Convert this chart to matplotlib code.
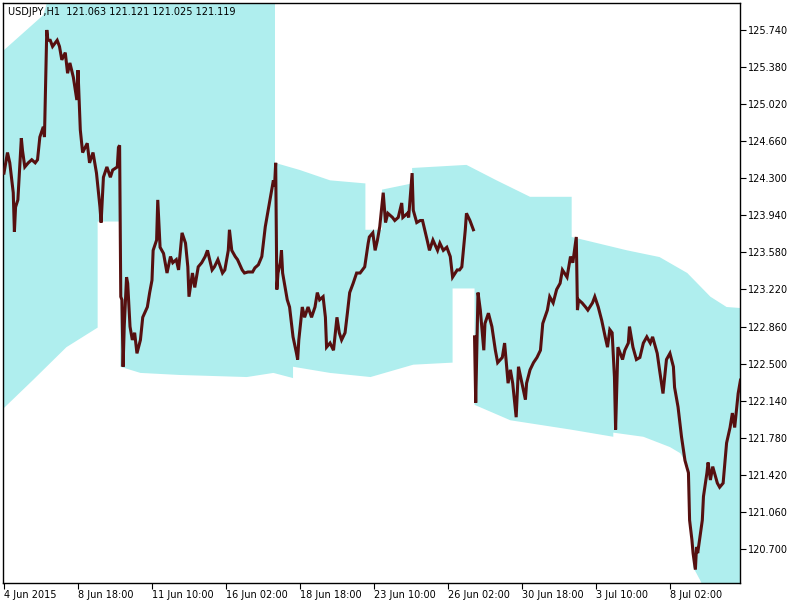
import matplotlib
matplotlib.use("Agg")
import matplotlib.pyplot as plt
import numpy as np

# ---------------- data ----------------
title_text = "USDJPY,H1  121.063 121.121 121.025 121.119"

tick_bars = [0, 64, 128, 192, 256, 320, 384, 448, 512, 576]
tick_labels = ["4 Jun 2015", "8 Jun 18:00", "11 Jun 10:00", "16 Jun 02:00",
               "18 Jun 18:00", "23 Jun 10:00", "26 Jun 02:00", "30 Jun 18:00",
               "3 Jul 10:00", "8 Jul 02:00"]

price_ticks = [120.70, 121.06, 121.42, 121.78, 122.14, 122.50, 122.86, 123.22,
               123.58, 123.94, 124.30, 124.66, 125.02, 125.38, 125.74]

# price path, first part (bar index, price)
bars_a = [0, 3, 5, 8, 9, 10, 12, 15, 16, 18, 21, 24, 27, 29, 31, 34, 35, 37, 38, 40,
          42, 46, 48, 50, 53, 55, 57, 60, 63, 64, 66, 68, 72, 74, 77, 80, 83, 84, 86, 89,
          92, 94, 98, 99, 100, 101, 102, 103, 104, 106, 107, 109, 111, 113, 115, 118, 120, 124, 126, 128,
          129, 132, 133, 135, 138, 141, 144, 146, 149, 151, 154, 157, 159, 160, 163, 165, 168, 171, 174, 176,
          180, 182, 185, 189, 191, 194, 195, 197, 200, 202, 206, 208, 211, 215, 217, 220, 223, 226, 228, 230,
          232, 233, 234, 235, 236, 237, 239, 240, 241, 245, 247, 250, 253, 254, 255, 258, 260, 263, 266, 269,
          271, 273, 276, 278, 279, 282, 285, 288, 290, 292, 295, 297, 299, 302, 305, 308, 312, 315, 316, 319,
          321, 323, 325, 328, 330, 332, 336, 338, 341, 344, 345, 349, 350, 353, 354, 357, 360, 362, 366, 368,
          371, 375, 377, 380, 383, 386, 388, 392, 394, 396, 399, 400, 403, 406]
price_a = [124.35, 124.55, 124.45, 124.16, 123.78, 124.02, 124.09, 124.69, 124.57, 124.41,
           124.45, 124.48, 124.45, 124.48, 124.70, 124.80, 124.70, 125.74, 125.64, 125.64,
           125.58, 125.64, 125.58, 125.45, 125.52, 125.32, 125.42, 125.28, 125.06, 125.35,
           124.77, 124.55, 124.64, 124.45, 124.55, 124.35, 124.02, 123.87, 124.31, 124.41,
           124.31, 124.38, 124.41, 124.60, 124.62, 123.15, 123.12, 122.47, 122.86, 123.34,
           123.28, 122.86, 122.73, 122.80, 122.60, 122.73, 122.95, 123.05, 123.19, 123.31,
           123.60, 123.70, 124.09, 123.63, 123.57, 123.38, 123.54, 123.48, 123.51, 123.41,
           123.77, 123.67, 123.44, 123.15, 123.38, 123.24, 123.44, 123.48, 123.54, 123.60,
           123.41, 123.44, 123.51, 123.38, 123.41, 123.60, 123.80, 123.60, 123.54, 123.51,
           123.41, 123.38, 123.39, 123.39, 123.43, 123.46, 123.54, 123.83, 123.96, 124.09,
           124.22, 124.28, 124.22, 124.45, 123.22, 123.38, 123.48, 123.60, 123.38, 123.12,
           123.05, 122.76, 122.60, 122.54, 122.73, 123.05, 122.95, 123.05, 122.95, 123.05,
           123.19, 123.12, 123.15, 122.95, 122.66, 122.70, 122.63, 122.95, 122.80, 122.73,
           122.80, 122.99, 123.19, 123.28, 123.38, 123.38, 123.44, 123.67, 123.73, 123.77,
           123.60, 123.70, 123.83, 124.16, 123.87, 123.96, 123.92, 123.89, 123.92, 124.06,
           123.92, 123.96, 123.92, 124.35, 123.99, 123.87, 123.89, 123.89, 123.70, 123.60,
           123.70, 123.60, 123.67, 123.60, 123.63, 123.54, 123.34, 123.41, 123.41, 123.44,
           123.80, 123.96, 123.89, 123.80]

# price path, second part after the gap
bars_b = [407, 408, 410, 412, 415, 416, 419, 422, 425, 427, 431, 433, 436, 438, 440, 443, 445, 448, 451, 452,
          455, 458, 461, 464, 466, 470, 472, 475, 478, 481, 483, 487, 490, 492, 495, 496, 497, 500, 503, 505,
          509, 511, 514, 517, 520, 522, 524, 526, 528, 529, 531, 535, 537, 540, 541, 544, 547, 550, 553, 556,
          559, 561, 565, 567, 570, 573, 576, 579, 580, 583, 586, 589, 592, 593, 595, 596, 598, 599, 600, 602,
          604, 605, 608, 609, 611, 613, 617, 619, 622, 625, 628, 630, 632, 635, 637]
price_b = [122.76, 122.12, 123.19, 123.02, 122.63, 122.89, 122.99, 122.86, 122.63, 122.51,
           122.56, 122.70, 122.31, 122.44, 122.31, 121.98, 122.47, 122.31, 122.15, 122.31,
           122.44, 122.51, 122.56, 122.63, 122.89, 123.02, 123.15, 123.09, 123.22, 123.28,
           123.41, 123.34, 123.54, 123.48, 123.73, 123.02, 123.12, 123.09, 123.05, 123.02,
           123.09, 123.15, 123.05, 122.92, 122.76, 122.66, 122.83, 122.80, 122.37, 121.86,
           122.66, 122.54, 122.63, 122.70, 122.86, 122.66, 122.54, 122.56, 122.70, 122.76,
           122.70, 122.76, 122.60, 122.44, 122.21, 122.54, 122.60, 122.47, 122.27, 122.08,
           121.79, 121.56, 121.44, 120.98, 120.79, 120.66, 120.50, 120.72, 120.66, 120.82,
           120.98, 121.21, 121.44, 121.54, 121.37, 121.50, 121.34, 121.30, 121.34, 121.73,
           121.88, 122.02, 121.88, 122.21, 122.34]

# channel band edges (bar index, price)
upper_bars = [0, 34, 45, 234.4, 234.4, 256, 282, 312.6, 312.6, 327, 327, 353, 353, 400, 426, 455,
              491, 491, 539, 567, 591, 611, 625, 637]
upper_vals = [125.545, 125.885, 126.30, 126.30, 124.45, 124.38, 124.28, 124.25, 123.80, 123.80,
              124.19, 124.25, 124.40, 124.43, 124.28, 124.12, 124.12, 123.73, 123.60, 123.535,
              123.38, 123.15, 123.05, 123.04]
lower_bars = [0, 25, 54, 81, 81, 100.5, 100.5, 118, 152, 210, 233, 250, 250, 282, 317, 354, 388,
              388, 407, 407, 438, 490, 527, 527, 553, 576, 585, 592, 596, 602, 606, 637]
lower_vals = [122.07, 122.34, 122.66, 122.85, 123.88, 123.88, 122.47, 122.41, 122.39, 122.37,
              122.41, 122.36, 122.47, 122.41, 122.37, 122.49, 122.51, 123.23, 123.23, 122.10,
              121.95, 121.86, 121.79, 121.83, 121.79, 121.69, 121.63, 121.50, 120.525, 120.40,
              120.30, 120.30]

# ---------------- plot ----------------
fig = plt.figure(figsize=(8, 6), dpi=100)
ax = fig.add_axes([3 / 800, 17 / 600, 737 / 800, 580 / 600])

band_x = list(upper_bars) + list(lower_bars[::-1])
band_y = list(upper_vals) + list(lower_vals[::-1])
ax.fill(band_x, band_y, color="#AFEEEE", lw=0, zorder=1)

line_color = "#561010"
ax.plot(bars_a, price_a, color=line_color, lw=2.2, zorder=3, solid_joinstyle="miter")
ax.plot(bars_b, price_b, color=line_color, lw=2.2, zorder=3, solid_joinstyle="miter")

ax.set_xlim(-0.86, 636.6)
ax.set_ylim(120.370, 126.002)

fs = 7
ax.yaxis.tick_right()
ax.set_yticks(price_ticks)
ax.set_yticklabels([f"{v:.3f}" for v in price_ticks], fontsize=fs)
ax.set_xticks(tick_bars)
ax.set_xticklabels(tick_labels, fontsize=fs, ha="left")
ax.tick_params(axis="both", direction="out", length=4, width=0.8, color="black", pad=2)
ax.tick_params(axis="x", pad=1)

for s in ax.spines.values():
    s.set_color("black")
    s.set_linewidth(1.0)

ax.text(0.007, 0.993, title_text, transform=ax.transAxes, fontsize=fs,
        ha="left", va="top", color="black", zorder=5)

fig.savefig("out.png", dpi=100)
